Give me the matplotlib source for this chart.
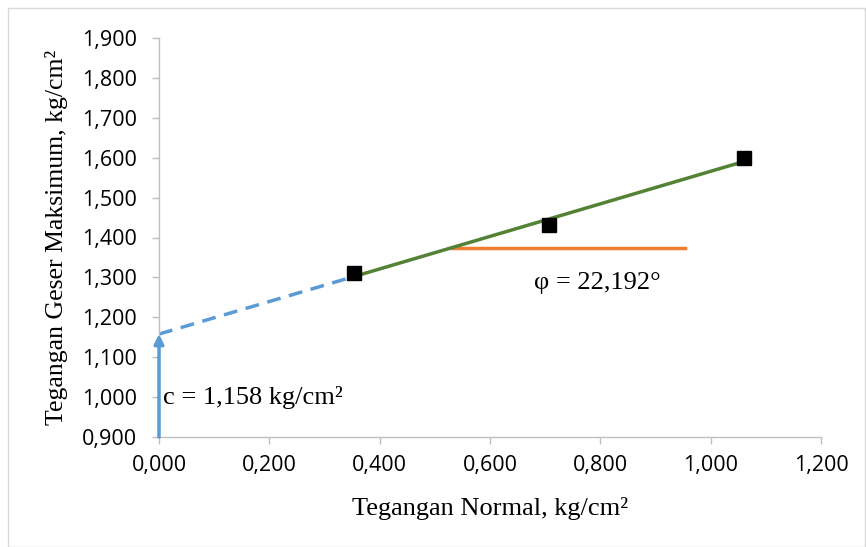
import numpy as np
import matplotlib.pyplot as plt
from matplotlib.patches import Rectangle

# hasil uji geser langsung
tegangan_normal = [0.354, 0.707, 1.061]
tegangan_geser = [1.311, 1.432, 1.598]

# parameter garis keruntuhan
kohesi = 1.158
sudut_geser = 22.192
garis_x = [0.354, 1.061]
bantu_x = [0.531, 0.954]

xticks = np.arange(0, 1.201, 0.2)
yticks = np.arange(0.9, 1.901, 0.1)

slope = np.tan(np.radians(sudut_geser))

fig = plt.figure(figsize=(8.66, 5.47), dpi=100)
ax = fig.add_axes([159/866, 1-437/547, 662/866, 399/547])

fig.patches.append(Rectangle((8/866, 0), 857/866, 1-8/547, transform=fig.transFigure,
                             fill=False, edgecolor='#d9d9d9', linewidth=1))

# garis putus-putus dari sumbu ke titik pertama
ax.plot([0, garis_x[0]], [kohesi, kohesi + slope*garis_x[0]], color='#5b9bd5',
        linewidth=2.5, dashes=(4, 2.5), zorder=2)
# garis keruntuhan
gx = np.array(garis_x)
ax.plot(gx, kohesi + slope*gx, color='#548235', linewidth=2.5, zorder=3)
# garis bantu horizontal untuk sudut
ax.plot(bantu_x, [kohesi + slope*bantu_x[0]]*2, color='#ed7d31', linewidth=2.5, zorder=2)
# panah kohesi
ax.annotate('', xy=(0, kohesi), xytext=(0, 0.9),
            arrowprops=dict(arrowstyle='-|>', color='#5b9bd5', lw=2.5,
                            mutation_scale=14, shrinkA=0, shrinkB=0), zorder=4)

ax.plot(tegangan_normal, tegangan_geser, linestyle='none', marker='s', markersize=10,
        color='black', zorder=4)

ax.text(0.007, 1.0, 'c = 1,158 kg/cm²', fontfamily='Liberation Serif', fontsize=19,
        va='center', ha='left')
ax.text(0.795, 1.286, 'φ = 22,192°', fontfamily='Liberation Serif', fontsize=19,
        va='center', ha='center')

ax.set_xlim(0, 1.2)
ax.set_ylim(0.9, 1.9)
ax.set_xticks(xticks)
ax.set_yticks(yticks)
ax.set_xticklabels([f'{v:.3f}'.replace('.', ',') for v in xticks])
ax.set_yticklabels([f'{v:.3f}'.replace('.', ',') for v in yticks])
for s in ['top', 'right']:
    ax.spines[s].set_visible(False)
for s in ['left', 'bottom']:
    ax.spines[s].set_color('#bfbfbf')
    ax.spines[s].set_linewidth(1)
ax.tick_params(colors='#bfbfbf', labelcolor='black', length=5, width=1, labelsize=15.5)
for lab in ax.get_xticklabels() + ax.get_yticklabels():
    lab.set_fontfamily('Open Sans')
ax.tick_params(axis='x', pad=8)
ax.tick_params(axis='y', pad=11)

ax.set_xlabel('Tegangan Normal, kg/cm²', fontfamily='Liberation Serif', fontsize=19, labelpad=15)
ax.set_ylabel('Tegangan Geser Maksimum, kg/cm²', fontfamily='Liberation Serif', fontsize=18.5,
              labelpad=10)

fig.savefig('out.png', dpi=100)
